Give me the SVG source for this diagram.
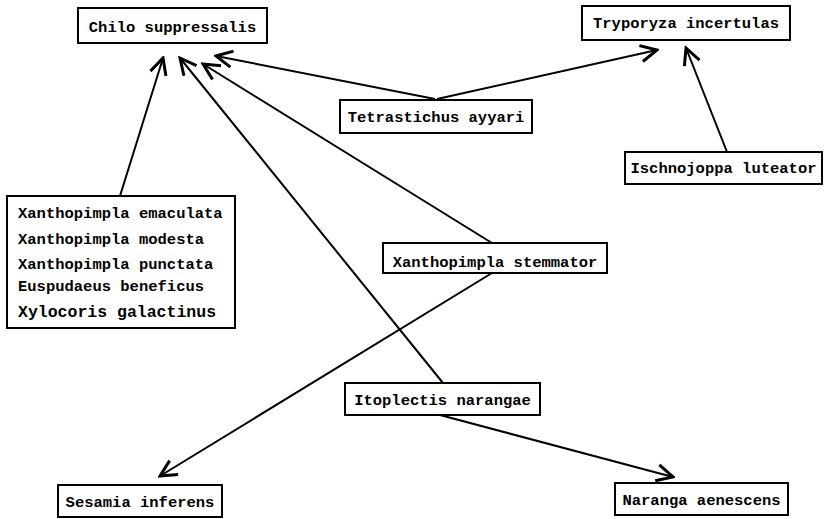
<svg xmlns="http://www.w3.org/2000/svg" width="825" height="519" viewBox="0 0 825 519">
<style>
  .box { fill: #fff; stroke: #000; stroke-width: 2; }
  .lbl { font-family: "Liberation Mono", "DejaVu Sans Mono", monospace; font-size: 15.5px; font-weight: bold; fill: #000; }
  .mid { text-anchor: middle; }
  .edge { fill: none; stroke: #000; stroke-width: 2; marker-end: url(#arr); }
</style>
<defs>
  <marker id="arr" markerUnits="userSpaceOnUse" markerWidth="20" markerHeight="20" viewBox="-14 -8 16 16" refX="0" refY="0" orient="auto">
    <path d="M-13,-6.5 L0,0 L-13,6.5" fill="none" stroke="#000" stroke-width="2.4"/>
  </marker>
</defs>
<rect width="825" height="519" fill="#fff"/>
<g id="connectors">
  <line class="edge" x1="120" y1="196" x2="163" y2="58"/>
  <line class="edge" x1="443" y1="383" x2="180" y2="58"/>
  <line class="edge" x1="492" y1="243" x2="203" y2="64"/>
  <line class="edge" x1="435" y1="99" x2="216" y2="56"/>
  <line class="edge" x1="437" y1="99" x2="657" y2="50"/>
  <line class="edge" x1="727" y1="152" x2="686" y2="48"/>
  <line class="edge" x1="492" y1="273" x2="160" y2="476"/>
  <line class="edge" x1="440" y1="415" x2="673" y2="477"/>
</g>
<g id="chilo">
  <rect class="box" x="78" y="8" width="189" height="35"/>
  <text class="lbl mid" x="172.5" y="32">Chilo suppressalis</text>
</g>
<g id="tryporyza">
  <rect class="box" x="582" y="6" width="208" height="34"/>
  <text class="lbl mid" x="686" y="28">Tryporyza incertulas</text>
</g>
<g id="tetrastichus">
  <rect class="box" x="340" y="100" width="192" height="33"/>
  <text class="lbl mid" x="436" y="122">Tetrastichus ayyari</text>
</g>
<g id="ischnojoppa">
  <rect class="box" x="625" y="152" width="197" height="32"/>
  <text class="lbl mid" x="723.5" y="173">Ischnojoppa luteator</text>
</g>
<g id="parasitoids">
  <rect class="box" x="7" y="196" width="228" height="132"/>
  <text class="lbl" x="18" y="218">Xanthopimpla emaculata</text>
  <text class="lbl" x="18" y="244">Xanthopimpla modesta</text>
  <text class="lbl" x="18" y="269">Xanthopimpla punctata</text>
  <text class="lbl" x="18" y="291">Euspudaeus beneficus</text>
  <text class="lbl" x="18" y="317" style="font-size:16.5px">Xylocoris galactinus</text>
</g>
<g id="stemmator">
  <rect class="box" x="383" y="243" width="224" height="30"/>
  <text class="lbl mid" x="495" y="267">Xanthopimpla stemmator</text>
</g>
<g id="itoplectis">
  <rect class="box" x="345" y="383" width="195" height="32"/>
  <text class="lbl mid" x="442.5" y="405">Itoplectis narangae</text>
</g>
<g id="sesamia">
  <rect class="box" x="58" y="485" width="164" height="32"/>
  <text class="lbl mid" x="140" y="507">Sesamia inferens</text>
</g>
<g id="naranga">
  <rect class="box" x="615" y="483" width="173" height="32"/>
  <text class="lbl mid" x="701.5" y="505">Naranga aenescens</text>
</g>
</svg>
